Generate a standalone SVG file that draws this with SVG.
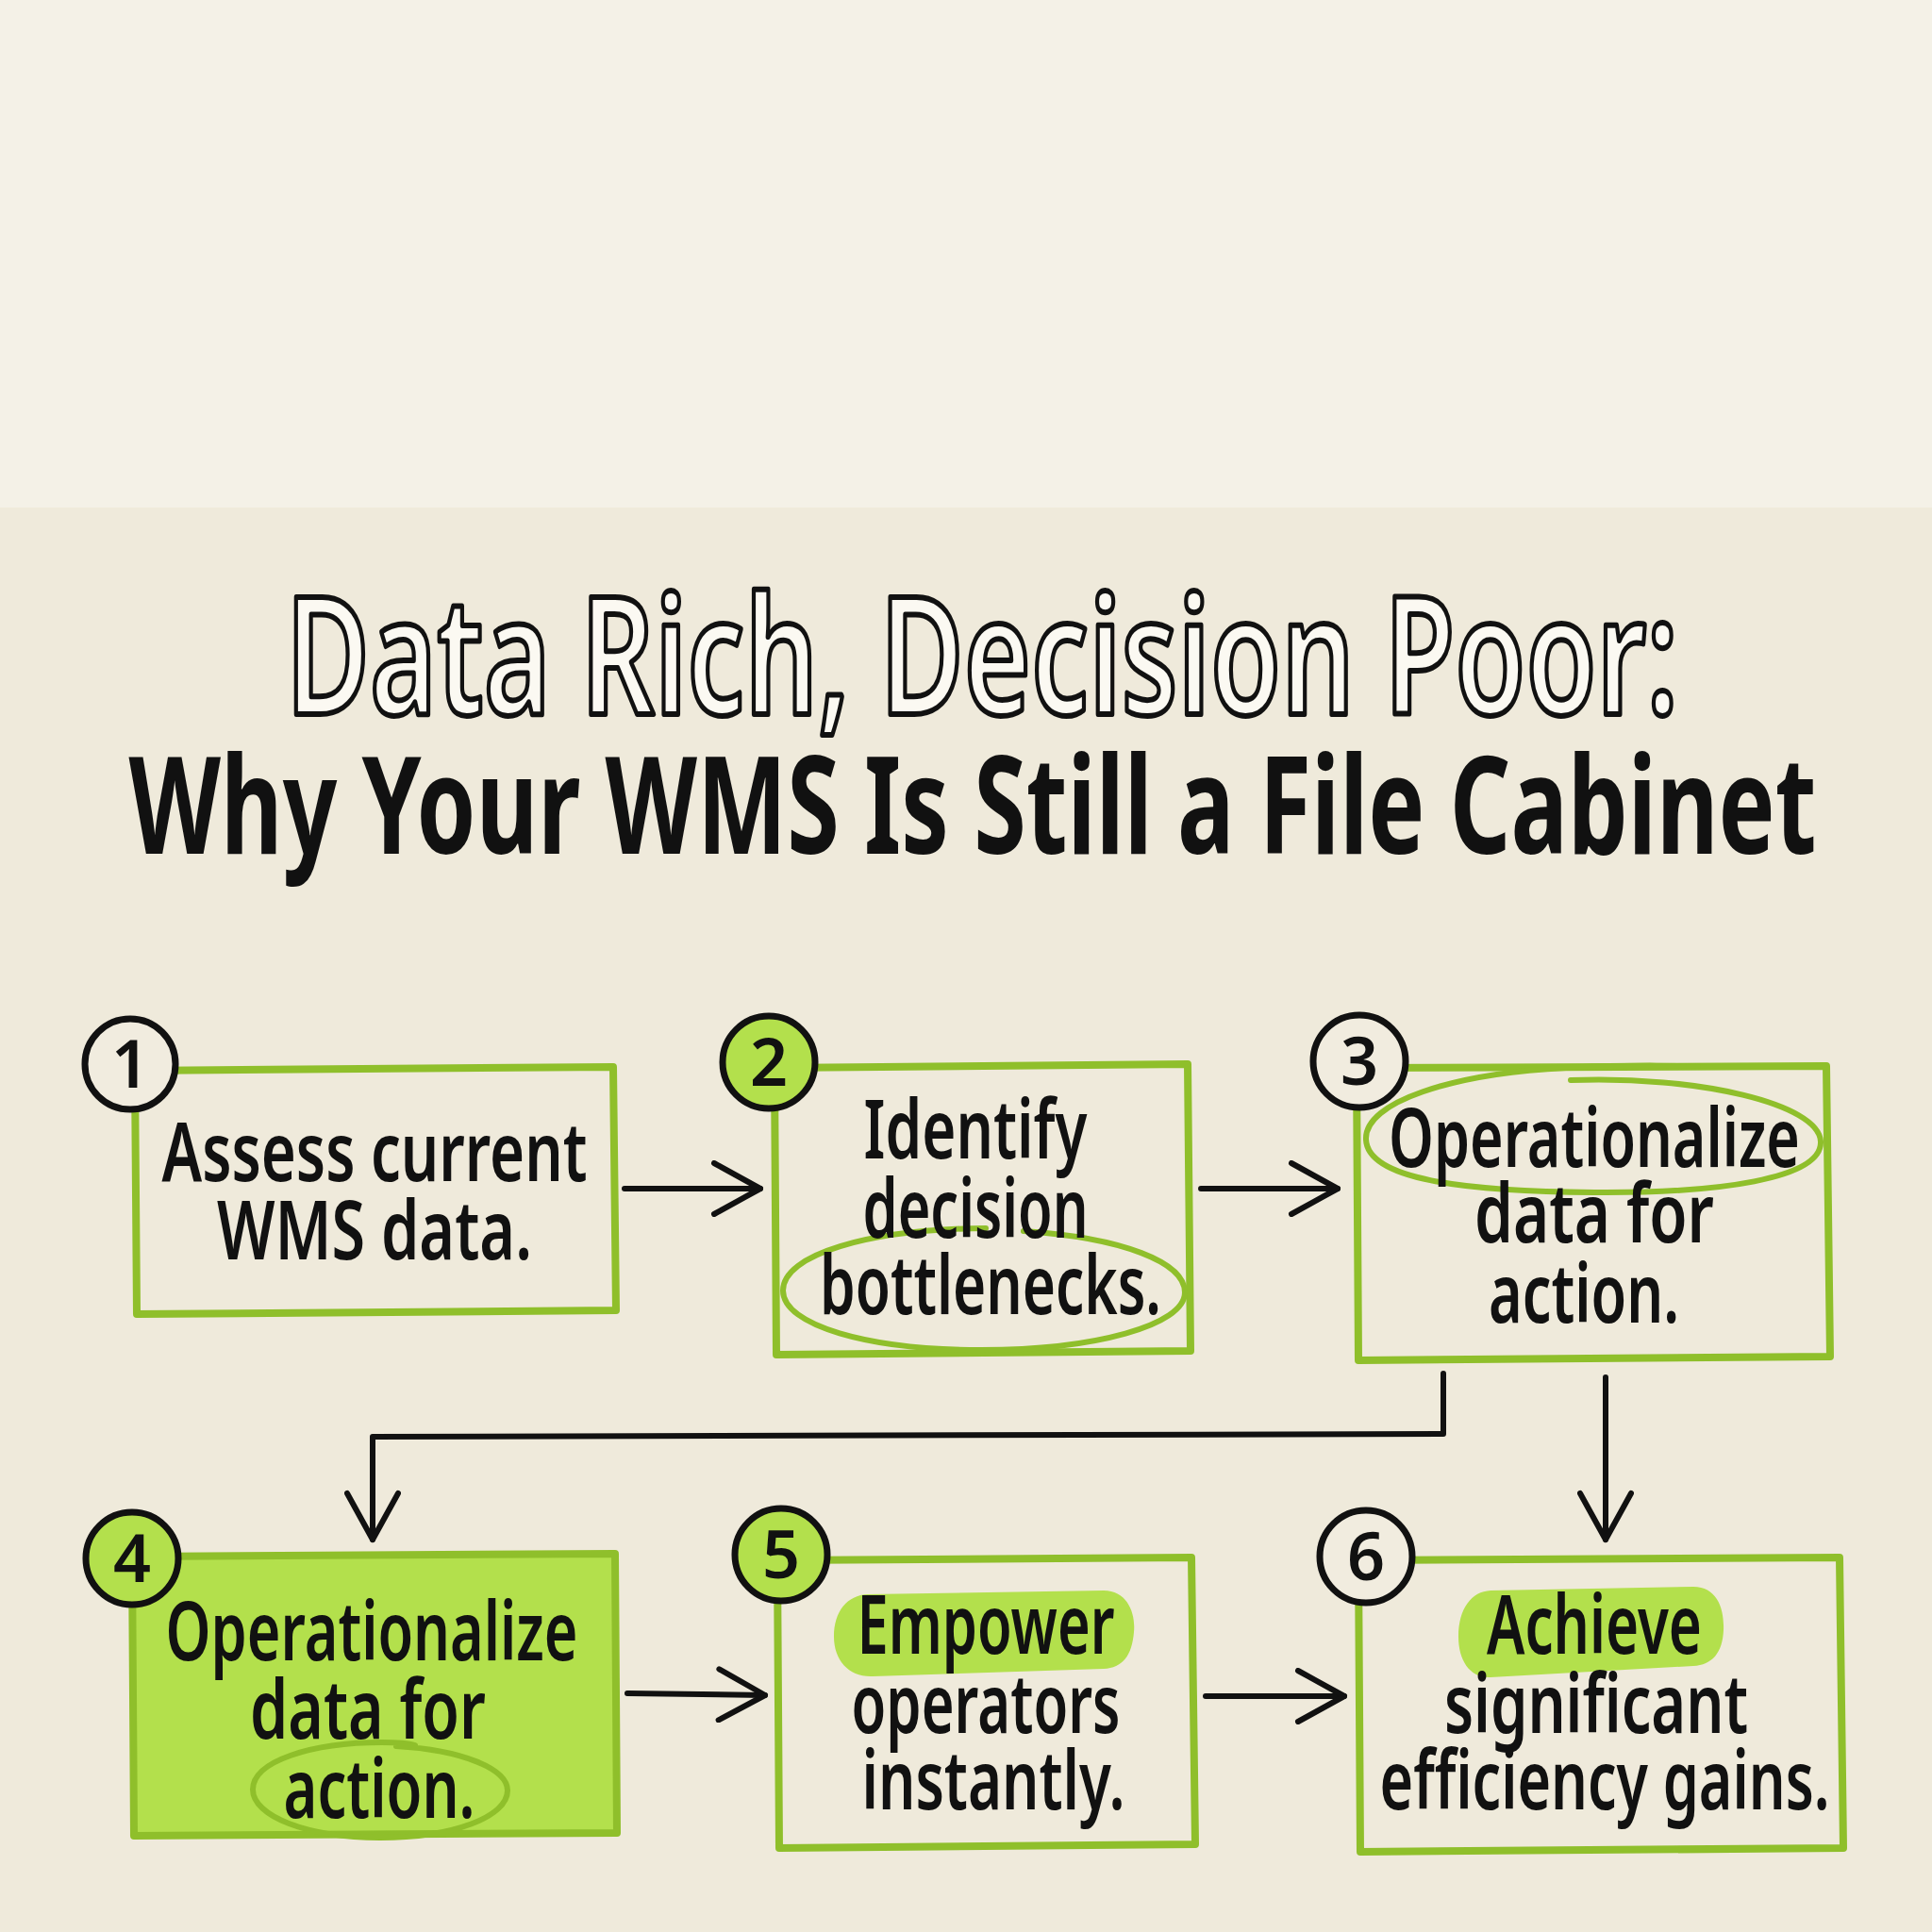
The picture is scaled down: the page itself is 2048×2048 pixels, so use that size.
<svg xmlns="http://www.w3.org/2000/svg" width="2048" height="2048" viewBox="0 0 2048 2048">
<defs>
<style>
.box{fill:none;stroke:#8fbf2b;stroke-width:8;stroke-linejoin:round;stroke-linecap:round}
.boxf{fill:#b3e04c;stroke:#8fbf2b;stroke-width:8;stroke-linejoin:round}
.loop{fill:none;stroke:#8fbf2b;stroke-width:6;stroke-linecap:round}
.hl{fill:#b3e04c}
.num{fill:#f1ecdf;stroke:#111;stroke-width:7}
.numg{fill:#b3e04c;stroke:#111;stroke-width:7}
.nt{font-family:"Noto Sans","DejaVu Sans",sans-serif;font-size:70px;font-weight:600;fill:#111;text-anchor:middle}
.t{font-family:"Noto Sans","DejaVu Sans",sans-serif;font-size:86px;font-weight:600;fill:#111;text-anchor:middle}
.conn{fill:none;stroke:#111;stroke-width:6;stroke-linecap:round;stroke-linejoin:round}
</style>
<marker id="ah" viewBox="0 0 60 60" refX="55" refY="30" markerWidth="60" markerHeight="60" markerUnits="userSpaceOnUse" orient="auto">
<path d="M6,3 L55,30 L6,57" fill="none" stroke="#111" stroke-width="6" stroke-linecap="round" stroke-linejoin="round"/>
</marker>
</defs>
<rect x="0" y="0" width="2048" height="2048" fill="#efeadb"/>
<rect x="0" y="0" width="2048" height="538" fill="#f4f1e7"/>

<g id="title">
<text x="1041" y="757" textLength="1476" lengthAdjust="spacingAndGlyphs" font-family="Noto Sans, DejaVu Sans, sans-serif" font-size="174" font-weight="600" text-anchor="middle" fill="#fbf9f2" stroke="#111" stroke-width="6" stroke-linejoin="round">Data Rich, Decision Poor:</text>
<text x="1031" y="905" textLength="1789" lengthAdjust="spacingAndGlyphs" font-family="Noto Sans, DejaVu Sans, sans-serif" font-size="144" font-weight="bold" text-anchor="middle" fill="#111">Why Your WMS Is Still a File Cabinet</text>
</g>

<g id="connectors">
<path class="conn" d="M662,1260 L806,1260" marker-end="url(#ah)"/>
<path class="conn" d="M1273,1260 L1418,1260" marker-end="url(#ah)"/>
<path class="conn" d="M1530,1456 L1530,1520 L395,1523 L395,1632" marker-end="url(#ah)"/>
<path class="conn" d="M1702,1460 L1702,1632" marker-end="url(#ah)"/>
<path class="conn" d="M665,1795 L811,1797" marker-end="url(#ah)"/>
<path class="conn" d="M1278,1798 L1425,1798" marker-end="url(#ah)"/>
</g>

<g id="node1">
<path class="box" d="M143,1135 L650,1131 L653,1389 L145,1393 Z"/>
<circle class="num" cx="138" cy="1128" r="48"/>
<text class="nt" x="138" y="1153">1</text>
<text class="t" x="397" y="1252" textLength="451" lengthAdjust="spacingAndGlyphs">Assess current</text>
<text class="t" x="397" y="1335" textLength="334" lengthAdjust="spacingAndGlyphs">WMS data.</text>
</g>

<g id="node2">
<path class="box" d="M821,1132 L1259,1128 L1262,1432 L823,1436 Z"/>
<circle class="numg" cx="815" cy="1126" r="49"/>
<text class="nt" x="815" y="1151">2</text>
<path class="loop" d="M1085,1305 C1190,1312 1256,1338 1256,1370 C1256,1405 1160,1431 1040,1431 C920,1431 830,1405 830,1368 C830,1330 920,1303 1045,1302"/>
<text class="t" x="1034" y="1228" textLength="237" lengthAdjust="spacingAndGlyphs">Identify</text>
<text class="t" x="1034" y="1312" textLength="239" lengthAdjust="spacingAndGlyphs">decision</text>
<text class="t" x="1050" y="1393" textLength="362" lengthAdjust="spacingAndGlyphs">bottlenecks.</text>
</g>

<g id="node3">
<path class="box" d="M1438,1132 L1936,1130 L1940,1438 L1440,1442 Z"/>
<circle class="num" cx="1441" cy="1125" r="49"/>
<text class="nt" x="1441" y="1150">3</text>
<path class="loop" d="M1665,1145 C1800,1140 1928,1170 1930,1210 C1932,1250 1820,1265 1690,1264 C1550,1263 1450,1250 1448,1208 C1446,1168 1540,1138 1660,1132 C1740,1128 1790,1130 1800,1131"/>
<text class="t" x="1690" y="1237" textLength="436" lengthAdjust="spacingAndGlyphs">Operationalize</text>
<text class="t" x="1690" y="1317" textLength="254" lengthAdjust="spacingAndGlyphs">data for</text>
<text class="t" x="1679" y="1402" textLength="202" lengthAdjust="spacingAndGlyphs">action.</text>
</g>

<g id="node4">
<path class="boxf" d="M140,1650 L652,1647 L654,1943 L142,1946 Z"/>
<circle class="numg" cx="140" cy="1652" r="49"/>
<text class="nt" x="140" y="1677">4</text>
<path class="loop" d="M420,1851 C490,1855 538,1875 538,1898 C538,1926 480,1948 403,1948 C325,1948 268,1925 268,1897 C268,1867 330,1847 405,1847 C430,1847 440,1850 440,1850"/>
<text class="t" x="394" y="1760" textLength="437" lengthAdjust="spacingAndGlyphs">Operationalize</text>
<text class="t" x="390" y="1843" textLength="250" lengthAdjust="spacingAndGlyphs">data for</text>
<text class="t" x="402" y="1927" textLength="203" lengthAdjust="spacingAndGlyphs">action.</text>
</g>

<g id="node5">
<path class="box" d="M824,1654 L1263,1651 L1267,1955 L826,1959 Z"/>
<circle class="numg" cx="828" cy="1648" r="49"/>
<text class="nt" x="828" y="1673">5</text>
<path class="hl" d="M920,1690 L1170,1686 C1195,1686 1204,1710 1202,1730 C1200,1755 1190,1768 1170,1769 L925,1777 C900,1778 884,1760 884,1735 C884,1708 898,1691 920,1690 Z"/>
<text class="t" x="1045" y="1753" textLength="273" lengthAdjust="spacingAndGlyphs">Empower</text>
<text class="t" x="1045" y="1837" textLength="285" lengthAdjust="spacingAndGlyphs">operators</text>
<text class="t" x="1053" y="1918" textLength="279" lengthAdjust="spacingAndGlyphs">instantly.</text>
</g>

<g id="node6">
<path class="box" d="M1440,1654 L1950,1651 L1954,1959 L1442,1963 Z"/>
<circle class="num" cx="1448" cy="1650" r="49"/>
<text class="nt" x="1448" y="1675">6</text>
<path class="hl" d="M1580,1686 L1795,1682 C1820,1682 1828,1705 1827,1728 C1826,1752 1815,1765 1795,1766 L1580,1778 C1558,1779 1546,1760 1546,1735 C1546,1705 1560,1687 1580,1686 Z"/>
<text class="t" x="1690" y="1753" textLength="228" lengthAdjust="spacingAndGlyphs">Achieve</text>
<text class="t" x="1692" y="1837" textLength="322" lengthAdjust="spacingAndGlyphs">significant</text>
<text class="t" x="1701" y="1918" textLength="477" lengthAdjust="spacingAndGlyphs">efficiency gains.</text>
</g>
</svg>
